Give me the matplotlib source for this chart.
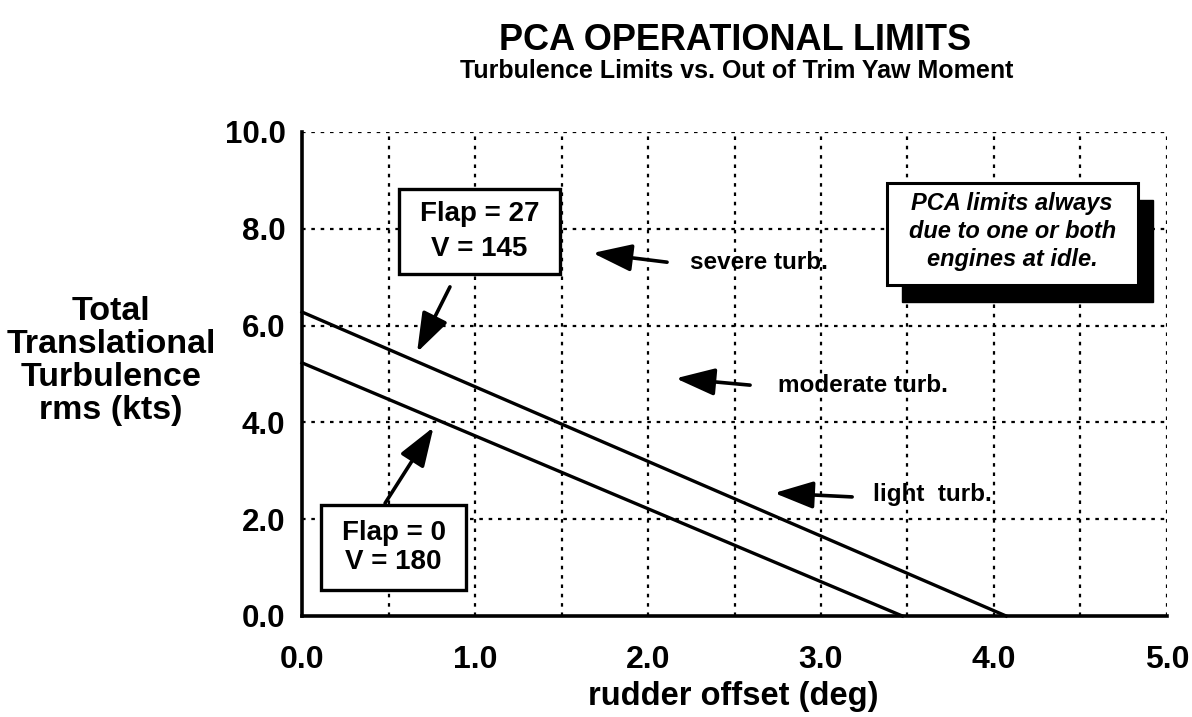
import matplotlib
matplotlib.use("Agg")
import matplotlib.pyplot as plt
from matplotlib.patches import Rectangle

plt.rcParams['font.family'] = ['Liberation Sans', 'DejaVu Sans']

# Data
flap27_x = [0.0, 4.07]
flap27_y = [6.28, 0.0]
flap0_x = [0.0, 3.47]
flap0_y = [5.23, 0.0]

x_ticks = [0.0, 1.0, 2.0, 3.0, 4.0, 5.0]
y_ticks = [0.0, 2.0, 4.0, 6.0, 8.0, 10.0]
x_grid = [0.5, 1.0, 1.5, 2.0, 2.5, 3.0, 3.5, 4.0, 4.5, 5.0]
y_grid = [2.0, 4.0, 6.0, 8.0, 10.0]

# Annotations: (label, tip, tail, text position)
region_labels = ["severe turb.", "moderate turb.", "light  turb."]
region_tips = [(1.68, 7.50), (2.16, 4.91), (2.73, 2.54)]
region_tails = [(2.11, 7.31), (2.59, 4.77), (3.18, 2.46)]
region_text_pos = [(2.24, 7.30), (2.75, 4.77), (3.30, 2.50)]

case_labels = ["Flap = 27\nV = 145", "Flap = 0\nV = 180"]
case_boxes = [(0.56, 7.07, 0.93, 1.75), (0.11, 0.54, 0.84, 1.75)]  # x, y, w, h
case_spacing = [1.42, 1.15]
case_tips = [(0.665, 5.45), (0.76, 3.90)]
case_tails = [(0.855, 6.80), (0.48, 2.33)]

note_text = "PCA limits always\ndue to one or both\nengines at idle."
note_box = (3.38, 6.84, 1.45, 2.11)
note_shadow = (0.087, -0.35)

fig = plt.figure(figsize=(11.92, 7.17), dpi=100)
ax = fig.add_axes([0.2534, 0.1409, 0.979 - 0.2534, 0.8159 - 0.1409])
ax.set_xlim(0, 5)
ax.set_ylim(0, 10)

grid_style = dict(color='black', lw=1.6, ls=(0, (1.6, 2.6)), zorder=1)
for gx in x_grid:
    ax.axvline(gx, **grid_style)
for gy in y_grid:
    ax.axhline(gy, **grid_style)

ax.plot(flap27_x, flap27_y, color='black', lw=2.4, zorder=3, clip_on=False)
ax.plot(flap0_x, flap0_y, color='black', lw=2.4, zorder=3, clip_on=False)

for s in ['top', 'right']:
    ax.spines[s].set_visible(False)
for s in ['left', 'bottom']:
    ax.spines[s].set_linewidth(2.6)
    ax.spines[s].set_zorder(4)

ax.set_xticks(x_ticks)
ax.set_yticks(y_ticks)
ax.set_xticklabels([f"{v:.1f}" for v in x_ticks])
ax.set_yticklabels([f"{v:.1f}" for v in y_ticks])
ax.tick_params(axis='both', length=0)
ax.tick_params(axis='x', pad=21, labelsize=23)
ax.tick_params(axis='y', pad=12, labelsize=22.5)
for lab in ax.get_xticklabels() + ax.get_yticklabels():
    lab.set_fontweight('bold')

arrow_props = dict(arrowstyle='-|>,head_length=0.8,head_width=0.28', lw=2.6,
                   color='black', mutation_scale=30, shrinkA=0, shrinkB=0)

for lab, tip, tail, tp in zip(region_labels, region_tips, region_tails, region_text_pos):
    ax.annotate('', xy=tip, xytext=tail, arrowprops=arrow_props, zorder=5)
    ax.text(tp[0], tp[1], lab, fontsize=17.5, fontweight='bold', ha='left', va='center', zorder=5)

for lab, box, sp, tip, tail in zip(case_labels, case_boxes, case_spacing, case_tips, case_tails):
    ax.add_patch(Rectangle((box[0], box[1]), box[2], box[3], facecolor='white',
                           edgecolor='black', lw=2.4, zorder=6))
    ax.text(box[0] + box[2] / 2, box[1] + box[3] / 2, lab, fontsize=20, fontweight='bold',
            ha='center', va='center', linespacing=sp, zorder=7)
    ax.annotate('', xy=tip, xytext=tail, arrowprops=arrow_props, zorder=5)

ax.add_patch(Rectangle((note_box[0] + note_shadow[0], note_box[1] + note_shadow[1]),
                       note_box[2], note_box[3], facecolor='black', edgecolor='black',
                       lw=1, zorder=6))
ax.add_patch(Rectangle((note_box[0], note_box[1]), note_box[2], note_box[3],
                       facecolor='white', edgecolor='black', lw=2.2, zorder=7))
ax.text(note_box[0] + note_box[2] / 2, note_box[1] + note_box[3] / 2 + 0.05, note_text,
        fontsize=17, fontweight='bold', style='italic', ha='center', va='center',
        linespacing=1.3, zorder=8)

fig.text(0.617, 0.943, "PCA OPERATIONAL LIMITS", fontsize=26, fontweight='bold',
         ha='center', va='center')
fig.text(0.618, 0.901, "Turbulence Limits vs. Out of Trim Yaw Moment", fontsize=18,
         fontweight='bold', ha='center', va='center')
fig.text(0.093, 0.496, "Total\nTranslational\nTurbulence\nrms (kts)", fontsize=24.5,
         fontweight='bold', ha='center', va='center', linespacing=1.08)
fig.text(0.615, 0.028, "rudder offset (deg)", fontsize=23.5, fontweight='bold',
         ha='center', va='center')

fig.savefig("out.png", dpi=100)
